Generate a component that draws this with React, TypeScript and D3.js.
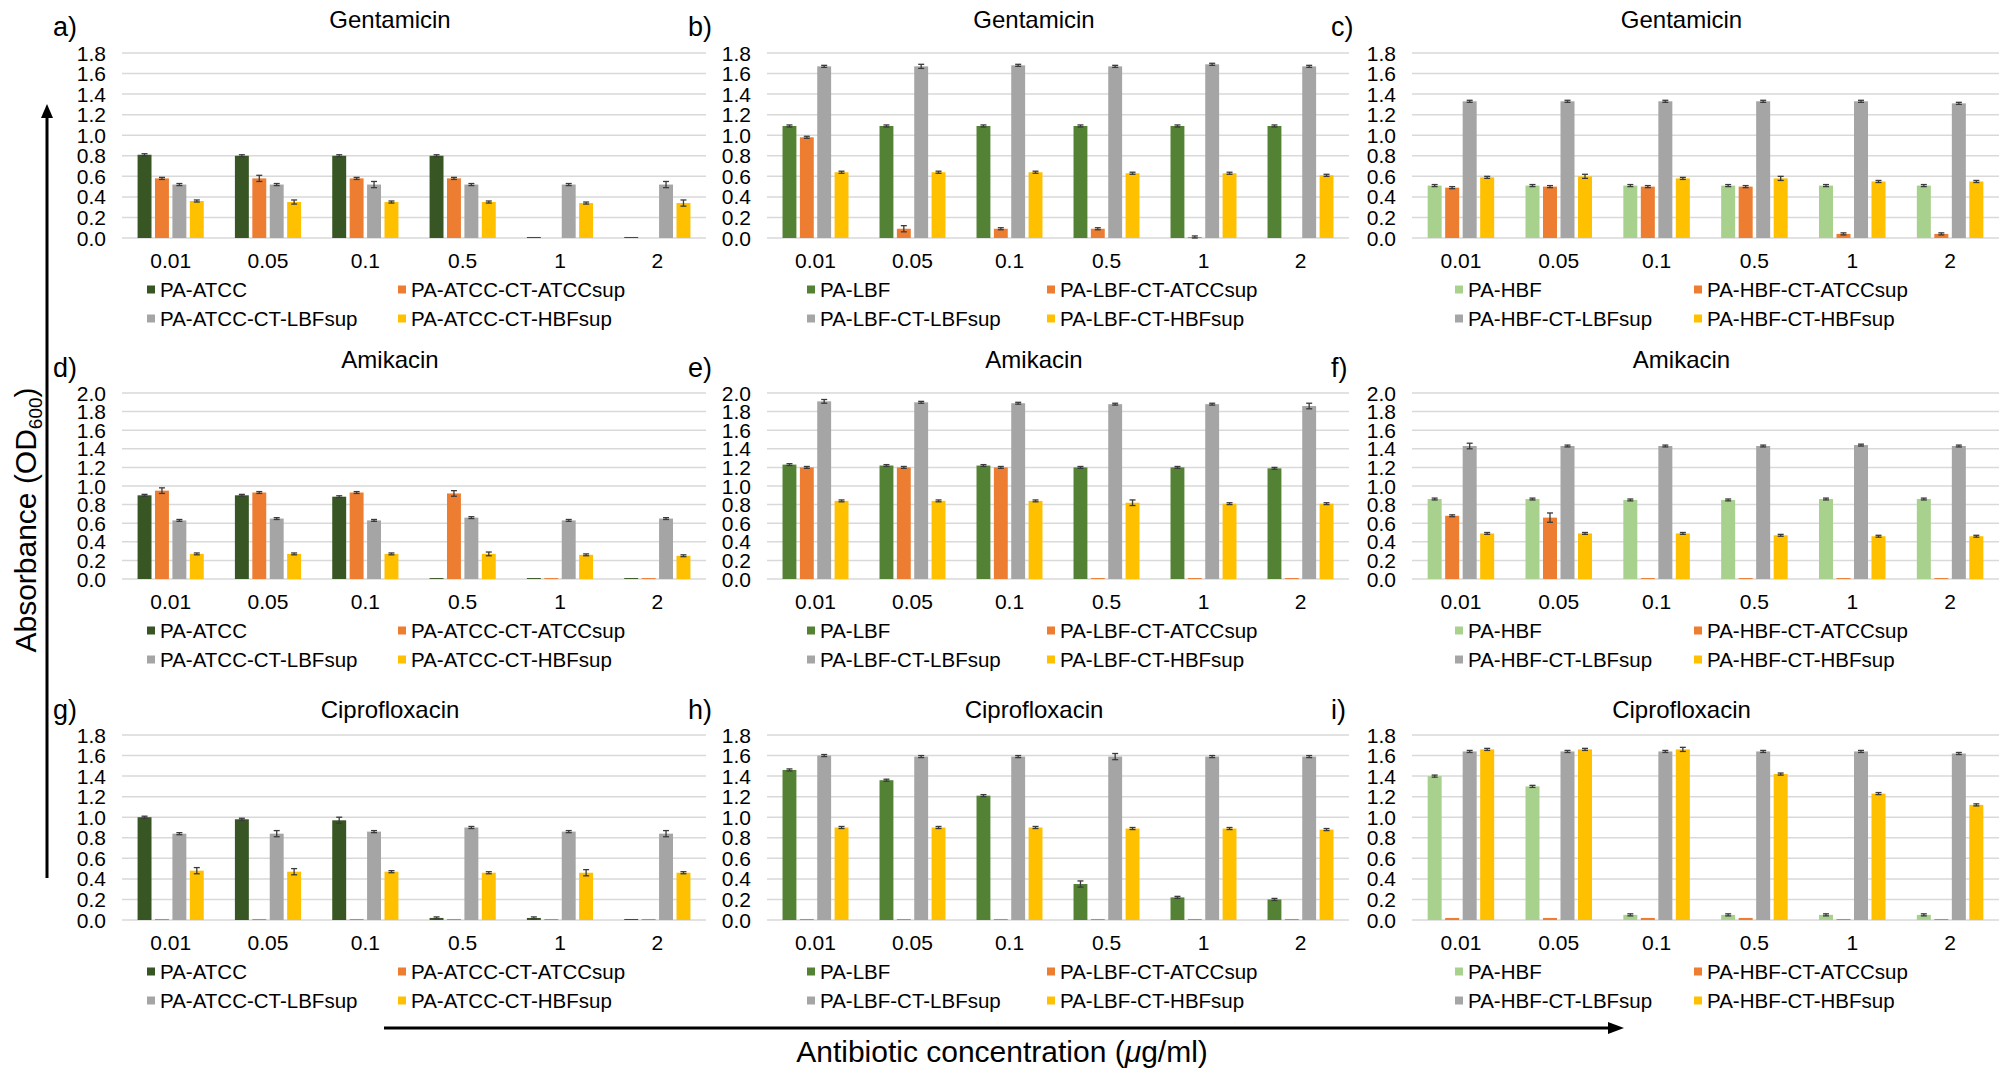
import * as d3 from "d3";

const concentrations = ["0.01", "0.05", "0.1", "0.5", "1", "2"];
const strains = ["ATCC", "LBF", "HBF"];
const antibiotics = ["Gentamicin", "Amikacin", "Ciprofloxacin"];
const panelLetters = [
  ["a)", "b)", "c)"],
  ["d)", "e)", "f)"],
  ["g)", "h)", "i)"],
];
const yMax = [1.8, 2.0, 1.8];
const strainColors = ["#375623", "#548235", "#A9D18E"];
const supColors = ["#ED7D31", "#A5A5A5", "#FFC000"];
const supNames = ["CT-ATCCsup", "CT-LBFsup", "CT-HBFsup"];

// series order: PA-x, PA-x-CT-ATCCsup, PA-x-CT-LBFsup, PA-x-CT-HBFsup
const gentATCC = [
  [0.81, 0.8, 0.8, 0.8, 0.01, 0.01],
  [0.58, 0.58, 0.58, 0.58, 0.0, 0.0],
  [0.52, 0.52, 0.52, 0.52, 0.52, 0.52],
  [0.36, 0.35, 0.35, 0.35, 0.34, 0.34],
];
const gentATCCErr = [
  [0.01, 0.01, 0.01, 0.01, 0, 0],
  [0.01, 0.03, 0.01, 0.01, 0, 0],
  [0.01, 0.01, 0.03, 0.01, 0.01, 0.03],
  [0.01, 0.02, 0.01, 0.01, 0.01, 0.03],
];
const gentLBF = [
  [1.09, 1.09, 1.09, 1.09, 1.09, 1.09],
  [0.98, 0.09, 0.09, 0.09, 0.01, 0.0],
  [1.67, 1.67, 1.68, 1.67, 1.69, 1.67],
  [0.64, 0.64, 0.64, 0.63, 0.63, 0.61],
];
const gentLBFErr = [
  [0.01, 0.01, 0.01, 0.01, 0.01, 0.01],
  [0.01, 0.03, 0.01, 0.01, 0.01, 0],
  [0.01, 0.02, 0.01, 0.01, 0.01, 0.01],
  [0.01, 0.01, 0.01, 0.01, 0.01, 0.01],
];
const gentHBF = [
  [0.51, 0.51, 0.51, 0.51, 0.51, 0.51],
  [0.49, 0.5, 0.5, 0.5, 0.04, 0.04],
  [1.33, 1.33, 1.33, 1.33, 1.33, 1.31],
  [0.59, 0.6, 0.58, 0.58, 0.55, 0.55],
];
const gentHBFErr = [
  [0.01, 0.01, 0.01, 0.01, 0.01, 0.01],
  [0.01, 0.01, 0.01, 0.01, 0.01, 0.01],
  [0.01, 0.01, 0.01, 0.01, 0.01, 0.01],
  [0.01, 0.02, 0.01, 0.02, 0.01, 0.01],
];

const amikATCC = [
  [0.9, 0.9, 0.885, 0.01, 0.01, 0.01],
  [0.95, 0.93, 0.93, 0.92, 0.01, 0.01],
  [0.63, 0.65, 0.63, 0.66, 0.63, 0.65],
  [0.27, 0.27, 0.27, 0.27, 0.26, 0.25],
];
const amikATCCErr = [
  [0.01, 0.01, 0.01, 0.0, 0.0, 0.0],
  [0.03, 0.01, 0.01, 0.03, 0.0, 0.0],
  [0.01, 0.01, 0.01, 0.01, 0.01, 0.01],
  [0.01, 0.01, 0.01, 0.02, 0.01, 0.01],
];
const amikLBF = [
  [1.23, 1.22, 1.22, 1.2, 1.2, 1.19],
  [1.2, 1.2, 1.2, 0.01, 0.01, 0.01],
  [1.91, 1.9, 1.89, 1.88, 1.88, 1.86],
  [0.84, 0.84, 0.84, 0.82, 0.81, 0.81],
];
const amikLBFErr = [
  [0.01, 0.01, 0.01, 0.01, 0.01, 0.01],
  [0.01, 0.01, 0.01, 0.0, 0.0, 0.0],
  [0.02, 0.01, 0.01, 0.01, 0.01, 0.03],
  [0.01, 0.01, 0.01, 0.03, 0.01, 0.01],
];
const amikHBF = [
  [0.86, 0.86, 0.85, 0.85, 0.86, 0.86],
  [0.68, 0.66, 0.01, 0.01, 0.01, 0.01],
  [1.43, 1.43, 1.43, 1.43, 1.44, 1.43],
  [0.49, 0.49, 0.49, 0.47, 0.46, 0.46],
];
const amikHBFErr = [
  [0.01, 0.01, 0.01, 0.01, 0.01, 0.01],
  [0.01, 0.05, 0.0, 0.0, 0.0, 0.0],
  [0.03, 0.01, 0.01, 0.01, 0.01, 0.01],
  [0.01, 0.01, 0.01, 0.01, 0.01, 0.01],
];

const cipATCC = [
  [1.0, 0.98, 0.97, 0.02, 0.02, 0.01],
  [0.01, 0.01, 0.01, 0.01, 0.01, 0.01],
  [0.84, 0.84, 0.86, 0.9, 0.86, 0.84],
  [0.48, 0.47, 0.47, 0.46, 0.46, 0.46],
];
const cipATCCErr = [
  [0.01, 0.01, 0.03, 0.01, 0.01, 0.0],
  [0.0, 0.0, 0.0, 0.0, 0.0, 0.0],
  [0.01, 0.03, 0.01, 0.01, 0.01, 0.03],
  [0.03, 0.03, 0.01, 0.01, 0.03, 0.01],
];
const cipLBF = [
  [1.46, 1.36, 1.21, 0.35, 0.22, 0.2],
  [0.01, 0.01, 0.01, 0.01, 0.01, 0.01],
  [1.6, 1.59, 1.59, 1.59, 1.59, 1.59],
  [0.9, 0.9, 0.9, 0.89, 0.89, 0.88],
];
const cipLBFErr = [
  [0.01, 0.01, 0.01, 0.03, 0.01, 0.01],
  [0.0, 0.0, 0.0, 0.0, 0.0, 0.0],
  [0.01, 0.01, 0.01, 0.03, 0.01, 0.01],
  [0.01, 0.01, 0.01, 0.01, 0.01, 0.01],
];
const cipHBF = [
  [1.4, 1.3, 0.05, 0.05, 0.05, 0.05],
  [0.02, 0.02, 0.02, 0.02, 0.01, 0.01],
  [1.64, 1.64, 1.64, 1.64, 1.64, 1.62],
  [1.66, 1.66, 1.66, 1.42, 1.23, 1.12],
];
const cipHBFErr = [
  [0.01, 0.01, 0.01, 0.01, 0.01, 0.01],
  [0.0, 0.0, 0.0, 0.0, 0.0, 0.0],
  [0.01, 0.01, 0.01, 0.01, 0.01, 0.01],
  [0.01, 0.01, 0.02, 0.01, 0.01, 0.01],
];

const values = [
  [gentATCC, gentLBF, gentHBF],
  [amikATCC, amikLBF, amikHBF],
  [cipATCC, cipLBF, cipHBF],
];
const errors = [
  [gentATCCErr, gentLBFErr, gentHBFErr],
  [amikATCCErr, amikLBFErr, amikHBFErr],
  [cipATCCErr, cipLBFErr, cipHBFErr],
];

// layout (pixels)
const W = 2008;
const H = 1071;
const font = "'Liberation Sans', Arial, Helvetica, sans-serif";
const colLeft = [122, 767, 1412];
const colWidth = [584, 582, 587];
const rowTop = [53, 393, 735];
const rowBottom = [238, 579, 920];
const titleY = [28, 368, 718];
const letterY = [36, 377, 719];
const letterX = [53, 688, 1331];
const legendX = [147, 807, 1455];
const legendCol2 = [251, 240, 239];

type PanelProps = { row: number; col: number };

const Panel = ({ row, col }: PanelProps) => {
  const left = colLeft[col];
  const width = colWidth[col];
  const strain = strains[col];
  const data = values[row][col];
  const err = errors[row][col];
  const colors = [strainColors[col], ...supColors];
  const names = [`PA-${strain}`, ...supNames.map((s) => `PA-${strain}-${s}`)];

  const x = d3.scaleBand().domain(concentrations).range([left, left + width]);
  const inner = d3
    .scaleBand<number>()
    .domain([0, 1, 2, 3])
    .range([x.bandwidth() * 0.16, x.bandwidth() * 0.84])
    .paddingInner(0.2);
  const y = d3.scaleLinear().domain([0, yMax[row]]).range([rowBottom[row], rowTop[row]]);
  const ticks = d3.range(0, Math.round(yMax[row] * 5) + 1).map((i) => i * 0.2);

  const legendItems = names.map((n, i) => ({
    name: n,
    color: colors[i],
    lx: legendX[col] + (i % 2) * legendCol2[col],
    ly: rowBottom[row] + (i < 2 ? 51.5 : 80.5),
  }));

  return (
    <g>
      <text
        x={left + width / 2 - 24}
        y={titleY[row]}
        textAnchor="middle"
        fontSize={24}
        fontFamily={font}
        fill="#000"
      >
        {antibiotics[row]}
      </text>
      <text x={letterX[col]} y={letterY[row]} fontSize={27} fontFamily={font} fill="#000">
        {panelLetters[row][col]}
      </text>
      {ticks.map((t) => (
        <g key={t}>
          <line
            x1={left}
            x2={left + width}
            y1={y(t)}
            y2={y(t)}
            stroke="#d9d9d9"
            strokeWidth={1.5}
          />
          <text
            x={left - 16}
            y={y(t)}
            textAnchor="end"
            dominantBaseline="central"
            fontSize={21}
            fontFamily={font}
            fill="#000"
          >
            {t.toFixed(1)}
          </text>
        </g>
      ))}
      {concentrations.map((c, ci) => (
        <g key={c}>
          {data.map((series, si) => {
            const v = series[ci];
            const e = err[si][ci];
            const bx = (x(c) ?? 0) + (inner(si) ?? 0);
            const cx = bx + inner.bandwidth() / 2;
            return (
              <g key={si}>
                <rect
                  x={bx}
                  y={y(v)}
                  width={inner.bandwidth()}
                  height={rowBottom[row] - y(v)}
                  fill={colors[si]}
                />
                {e > 0 && (
                  <g stroke="#3a3a3a" strokeWidth={1.3}>
                    <line x1={cx} x2={cx} y1={y(v - e)} y2={y(v + e)} />
                    <line x1={cx - 3} x2={cx + 3} y1={y(v + e)} y2={y(v + e)} />
                    <line x1={cx - 3} x2={cx + 3} y1={y(v - e)} y2={y(v - e)} />
                  </g>
                )}
              </g>
            );
          })}
          <text
            x={(x(c) ?? 0) + x.bandwidth() / 2}
            y={rowBottom[row] + 22}
            textAnchor="middle"
            dominantBaseline="central"
            fontSize={21}
            fontFamily={font}
            fill="#000"
          >
            {c}
          </text>
        </g>
      ))}
      {legendItems.map((d) => (
        <g key={d.name}>
          <rect x={d.lx} y={d.ly - 4} width={8} height={8} fill={d.color} />
          <text
            x={d.lx + 13}
            y={d.ly}
            dominantBaseline="central"
            fontSize={20.5}
            fontFamily={font}
            fill="#000"
          >
            {d.name}
          </text>
        </g>
      ))}
    </g>
  );
};

export default function App() {
  const rows = [0, 1, 2];
  const cols = [0, 1, 2];
  return (
    <svg
      width={W}
      height={H}
      style={{ position: "absolute", left: 0, top: 0, background: "#fff" }}
    >
      <rect width={W} height={H} fill="#fff" />
      {rows.map((r) => cols.map((c) => <Panel key={`${r}-${c}`} row={r} col={c} />))}

      {/* y axis arrow */}
      <line x1={47} x2={47} y1={878} y2={116} stroke="#000" strokeWidth={3} />
      <path d="M47,104 L41,118 L53,118 Z" fill="#000" />
      <text
        transform="translate(36,520) rotate(-90)"
        textAnchor="middle"
        fontSize={30}
        fontFamily={font}
        fill="#000"
      >
        Absorbance (OD
        <tspan fontSize={19} dy={6}>
          600
        </tspan>
        <tspan dy={-6}>)</tspan>
      </text>

      {/* x axis arrow */}
      <line x1={384} x2={1610} y1={1028} y2={1028} stroke="#000" strokeWidth={3} />
      <path d="M1624,1028 L1608,1022 L1608,1034 Z" fill="#000" />
      <text
        x={1002}
        y={1062}
        textAnchor="middle"
        fontSize={30}
        fontFamily={font}
        fill="#000"
      >
        Antibiotic concentration (<tspan fontStyle="italic">μ</tspan>g/ml)
      </text>
    </svg>
  );
}
